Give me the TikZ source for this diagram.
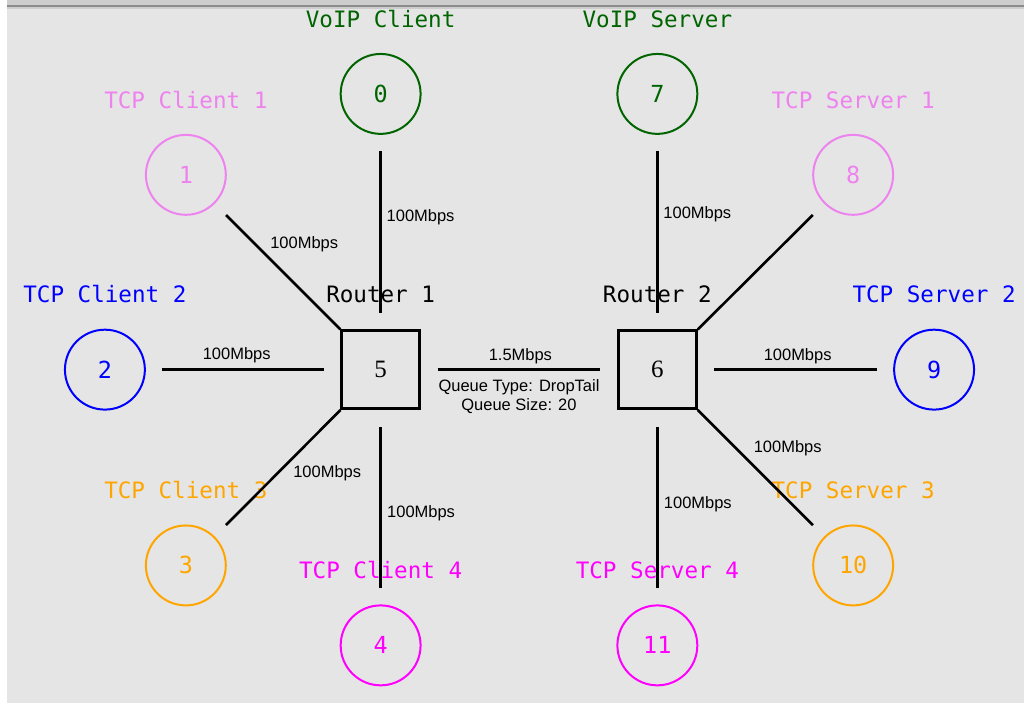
\documentclass[tikz,border=0pt]{standalone}
\usepackage{fontspec}
\usepackage{tikz}
\usetikzlibrary{positioning}

\newfontfamily\nammono{DejaVu Sans Mono}
\newfontfamily\namsans{Liberation Sans}
\newfontfamily\namserif{Liberation Serif}

\definecolor{voipgreen}{RGB}{0,100,0}
\definecolor{tcpviolet}{RGB}{238,130,238}
\definecolor{tcpblue}{RGB}{0,0,255}
\definecolor{tcporange}{RGB}{255,165,0}
\definecolor{tcpmagenta}{RGB}{255,0,255}
\definecolor{namback}{RGB}{229,229,229}
\definecolor{namframe}{RGB}{205,205,205}
\definecolor{namedge}{RGB}{140,140,140}

\begin{document}
\begin{tikzpicture}[
  x=1pt, y=-1pt,
  host/.style={draw, circle, line width=2pt, minimum size=80pt, inner sep=0pt, outer sep=0pt,
    font=\nammono\fontsize{23.5}{23.5}\selectfont},
  router/.style={draw, line width=2.4pt, minimum size=78pt, inner sep=0pt, outer sep=0pt,
    font=\namserif\fontsize{25}{25}\selectfont},
  tag/.style={inner sep=0pt, text height=16.5pt, text depth=0pt,
    font=\nammono\fontsize{22.6}{24}\selectfont},
  link/.style={line width=2.6pt, shorten <=57pt, shorten >=57pt},
  bw/.style={inner sep=0pt, font=\namsans\fontsize{16.5}{19}\selectfont}
]
  % window
  \fill[white] (0,0) rectangle (1025,704);
  \fill[namframe] (7,0) rectangle (1025,9);
  \draw[namedge, line width=2pt] (7,6) -- (1025,6);
  \fill[namback] (7,9) rectangle (1025,704);
  \useasboundingbox (0,0) rectangle (1025,704);

  % routers
  \node[router] (r5) at (381,370) {5};
  \node[router, right=199pt of r5] (r6) {6};

  % hosts
  \node[host, color=voipgreen, above=197pt of r5] (c0) {0};
  \node[host, color=tcpviolet, above left=127.7pt and 127.7pt of r5] (c1) {1};
  \node[host, color=tcpblue, left=197pt of r5] (c2) {2};
  \node[host, color=tcporange, below left=128.7pt and 127.7pt of r5] (c3) {3};
  \node[host, color=tcpmagenta, below=197pt of r5] (c4) {4};
  \node[host, color=voipgreen, above=197pt of r6] (c7) {7};
  \node[host, color=tcpviolet, above right=127.7pt and 128.7pt of r6] (c8) {8};
  \node[host, color=tcpblue, right=198pt of r6] (c9) {9};
  \node[host, color=tcporange, below right=128.7pt and 128.7pt of r6] (c10) {10};
  \node[host, color=tcpmagenta, below=197pt of r6] (c11) {11};

  % names
  \node[tag, above=27.7pt of r5] (t5) {Router 1};
  \node[tag, above=27.7pt of r6] (t6) {Router 2};
  \node[tag, text=voipgreen, above=26.7pt of c0] (t0) {VoIP Client};
  \node[tag, text=tcpviolet, above=26.7pt of c1] (t1) {TCP Client 1};
  \node[tag, text=tcpblue, above=26.7pt of c2] (t2) {TCP Client 2};
  \node[tag, text=tcporange, above=26.7pt of c3] (t3) {TCP Client 3};
  \node[tag, text=tcpmagenta, above=26.7pt of c4] (t4) {TCP Client 4};
  \node[tag, text=voipgreen, above=26.7pt of c7] (t7) {VoIP Server};
  \node[tag, text=tcpviolet, above=26.7pt of c8] (t8) {TCP Server 1};
  \node[tag, text=tcpblue, above=26.7pt of c9] (t9) {TCP Server 2};
  \node[tag, text=tcporange, above=26.7pt of c10] (t10) {TCP Server 3};
  \node[tag, text=tcpmagenta, above=26.7pt of c11] (t11) {TCP Server 4};

  % links
  \draw[link] (c0.center) -- node[bw, pos=0.449, xshift=40pt] {100Mbps} (r5.center);
  \draw[link] (c1.center) -- node[bw, pos=0.481, xshift=24.7pt, yshift=24.8pt] {100Mbps} (r5.center);
  \draw[link] (c2.center) -- node[bw, pos=0.478, yshift=14pt] {100Mbps} (r5.center);
  \draw[link] (c3.center) -- node[bw, pos=0.597, xshift=25.1pt, yshift=-25pt] {100Mbps} (r5.center);
  \draw[link] (c4.center) -- node[bw, pos=0.478, xshift=40.5pt] {100Mbps} (r5.center);
  \draw[link] (c7.center) -- node[bw, pos=0.435, xshift=40pt] {100Mbps} (r6.center);
  \draw[link] (c8.center) -- (r6.center);
  \draw[link] (c9.center) -- node[bw, pos=0.493, yshift=13pt] {100Mbps} (r6.center);
  \draw[link] (c10.center) -- node[bw, pos=0.466, xshift=25.8pt, yshift=25.7pt] {100Mbps} (r6.center);
  \draw[link] (c11.center) -- node[bw, pos=0.511, xshift=40.5pt] {100Mbps} (r6.center);
  \draw[link] (r5.center) -- node[bw, pos=0.505, yshift=13pt] {1.5Mbps}
    node[bw, align=center, pos=0.5, yshift=-26.5pt] {Queue Type: DropTail\\Queue Size: 20} (r6.center);
\end{tikzpicture}
\end{document}
